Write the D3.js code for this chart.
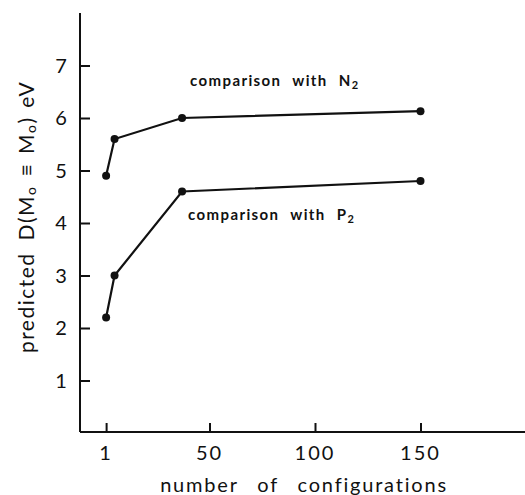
<!DOCTYPE html>
<html><head><meta charset="utf-8">
<script src="https://cdn.jsdelivr.net/npm/d3@7"></script>
<style>body{margin:0;background:#fff}svg{display:block}text{font-family:"Lato","DejaVu Sans",sans-serif;fill:#111}</style>
</head><body>
<script>
const configs = [1, 5, 37, 150];
const withN2 = [4.9, 5.6, 6.0, 6.13];
const withP2 = [2.2, 3.0, 4.6, 4.8];
const xTicks = [1, 50, 100, 150];
const xTickLabels = ["1", "50", "100", "150"];
const yTicks = [1, 2, 3, 4, 5, 6, 7];
const seriesLabels = ["comparison with N", "comparison with P"];

const W = 525, H = 495;
const svg = d3.select("body").append("svg").attr("width", W).attr("height", H);
const x = d3.scaleLinear().domain([0, 200]).range([104, 526]);
const y = d3.scaleLinear().domain([0, 8]).range([433, 13]);
const ink = "#111";

// axes lines
svg.append("line").attr("x1", 80).attr("x2", 80).attr("y1", y(8)).attr("y2", 432).attr("stroke", ink).attr("stroke-width", 2);
svg.append("line").attr("x1", 80).attr("x2", W).attr("y1", 432).attr("y2", 432).attr("stroke", ink).attr("stroke-width", 2);

// y ticks
const yAxis = d3.axisRight(y).tickValues(yTicks).tickSize(10).tickFormat("");
const gy = svg.append("g").attr("transform", "translate(80,0)").call(yAxis);
gy.select(".domain").remove();
gy.selectAll("line").attr("stroke", ink).attr("stroke-width", 2);
svg.selectAll(".ylab").data(yTicks).join("text")
  .attr("x", 61).attr("y", d => y(d) + 7).attr("text-anchor", "middle")
  .attr("font-size", 20).text(d => d);

// x ticks
const xAxis = d3.axisTop(x).tickValues(xTicks).tickSize(9).tickFormat("");
const gx = svg.append("g").attr("transform", "translate(0,432)").call(xAxis);
gx.select(".domain").remove();
gx.selectAll("line").attr("stroke", ink).attr("stroke-width", 2);
svg.selectAll(".xlab").data(xTicks).join("text")
  .attr("x", d => x(d)).attr("y", 460).attr("text-anchor", "middle")
  .attr("font-size", 20).attr("letter-spacing", 2).text((d, i) => xTickLabels[i]);

svg.append("text").attr("x", 304).attr("y", 492).attr("text-anchor", "middle")
  .attr("font-size", 20).attr("letter-spacing", 1.8).attr("word-spacing", 12).text("number of configurations");

// y title
const yt = svg.append("text").attr("transform", "translate(34,217) rotate(-90)").attr("text-anchor", "middle")
  .attr("font-size", 21).attr("letter-spacing", 1.5).attr("word-spacing", 2);
yt.append("tspan").text("predicted");
yt.append("tspan").attr("dx", 12).text("D(M");
yt.append("tspan").attr("font-size", 14).attr("dy", 2).text("o");
yt.append("tspan").attr("dy", -2).text(" ≡ M");
yt.append("tspan").attr("font-size", 14).attr("dy", 2).text("o");
yt.append("tspan").attr("dy", -2).text(") eV");

// series
const line = d3.line().x(d => x(d[0])).y(d => y(d[1]));
[withN2, withP2].forEach(vals => {
  const pts = configs.map((c, i) => [c, vals[i]]);
  svg.append("path").attr("d", line(pts)).attr("fill", "none").attr("stroke", ink).attr("stroke-width", 2.2);
  svg.selectAll(null).data(pts).join("circle").attr("cx", d => x(d[0])).attr("cy", d => y(d[1])).attr("r", 4).attr("fill", ink);
});

// series labels
const lab = [[190, 86, "2"], [188, 220, "2"]];
seriesLabels.forEach((s, i) => {
  const t = svg.append("text").attr("x", lab[i][0]).attr("y", lab[i][1]).attr("font-size", 15)
    .attr("letter-spacing", 1.4).attr("word-spacing", 6).attr("font-weight", "bold");
  t.append("tspan").text(s);
  t.append("tspan").attr("font-size", 11).attr("dy", 3).text(lab[i][2]);
});
</script>
</body></html>
